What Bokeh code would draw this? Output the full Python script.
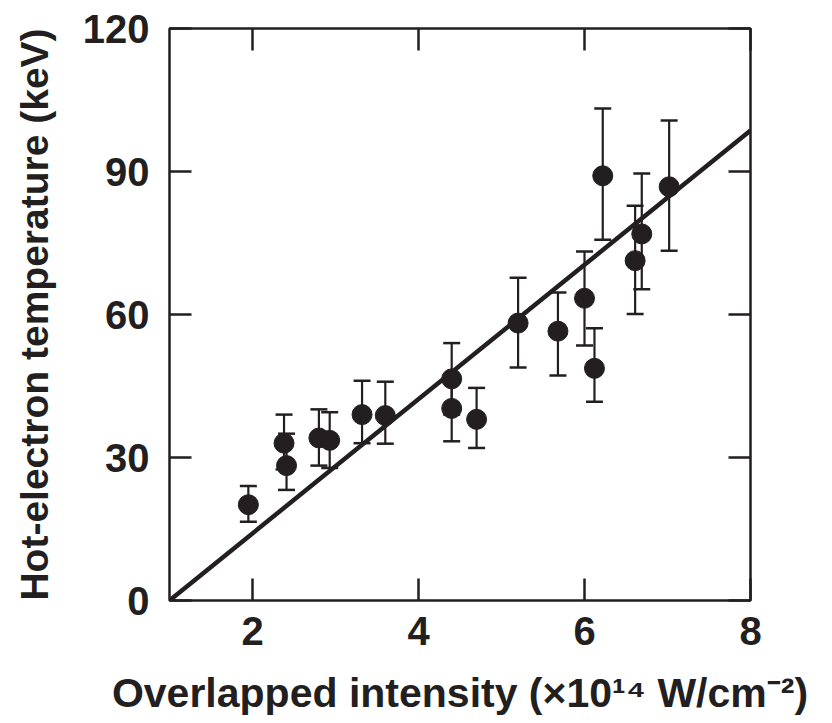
from bokeh.plotting import figure
from bokeh.models import Range1d, FixedTicker, LinearAxis, ColumnDataSource
from bokeh.embed import file_html
from bokeh.resources import INLINE

# Data
intensity = [1.95, 2.38, 2.41, 2.80, 2.93, 3.32, 3.60, 4.40, 4.40, 4.70,
             5.20, 5.68, 6.00, 6.12, 6.22, 6.61, 6.69, 7.02]
temperature = [20.1, 33.0, 28.3, 34.1, 33.6, 39.0, 38.8, 46.5, 40.3, 38.0,
               58.2, 56.5, 63.4, 48.7, 89.1, 71.3, 76.9, 86.8]
err_upper = [24.0, 39.0, 35.0, 40.1, 39.5, 46.1, 45.9, 54.0, 47.0, 44.6,
             67.7, 64.6, 73.2, 57.1, 103.2, 82.8, 89.6, 100.7]
err_lower = [16.5, 27.5, 23.2, 28.3, 27.8, 33.0, 32.9, 39.0, 33.4, 32.0,
             48.9, 47.2, 53.5, 41.7, 75.7, 60.1, 65.3, 73.4]
fit_x = [1.0, 8.0]
fit_y = [0.0, 98.6]
x_ticks = [2, 4, 6, 8]
y_ticks = [0, 30, 60, 90, 120]

INK = "#231f20"
FONT = "Liberation Sans"

p = figure(width=816, height=718, output_backend="svg", toolbar_location=None,
           x_range=Range1d(1, 8), y_range=Range1d(0, 120),
           min_border_left=169, min_border_right=66, min_border_top=28,
           min_border_bottom=117)
p.grid.visible = False
p.outline_line_color = INK
p.outline_line_width = 2.5
p.background_fill_color = "white"
p.border_fill_color = "white"

for ax in (p.xaxis[0], p.yaxis[0]):
    ax.axis_line_color = None
    ax.major_tick_in = 22
    ax.major_tick_out = 0
    ax.minor_tick_line_color = None
    ax.major_tick_line_color = INK
    ax.major_tick_line_width = 2.5
    ax.major_label_text_font = FONT
    ax.major_label_text_font_style = "bold"
    ax.major_label_text_font_size = "40px"
    ax.major_label_text_color = INK
    ax.axis_label_text_font = FONT
    ax.axis_label_text_font_style = "bold"
    ax.axis_label_text_color = INK

p.xaxis[0].ticker = FixedTicker(ticks=x_ticks)
p.yaxis[0].ticker = FixedTicker(ticks=y_ticks)
p.xaxis[0].major_label_standoff = 16
p.yaxis[0].major_label_standoff = 20

p.xaxis[0].axis_label = "Overlapped intensity (×10¹⁴ W/cm⁻²)"
p.xaxis[0].axis_label_text_font_size = "41px"
p.xaxis[0].axis_label_standoff = 22

p.yaxis[0].axis_label = "Hot-electron temperature (keV)"
p.yaxis[0].axis_label_text_font_size = "39px"
p.yaxis[0].axis_label_standoff = 24

# mirrored ticks on top and right
for loc, ticks in (("above", x_ticks), ("right", y_ticks)):
    ax = LinearAxis(ticker=FixedTicker(ticks=ticks))
    ax.axis_line_color = None
    ax.major_tick_in = 22
    ax.major_tick_out = 0
    ax.minor_tick_line_color = None
    ax.major_tick_line_color = INK
    ax.major_tick_line_width = 2.5
    ax.major_label_text_font_size = "0px"
    ax.major_label_text_color = None
    p.add_layout(ax, loc)

src = ColumnDataSource(dict(x=intensity, y=temperature, up=err_upper, lo=err_lower))

p.line(fit_x, fit_y, line_color=INK, line_width=4.5)
p.segment(x0="x", y0="lo", x1="x", y1="up", source=src, line_color=INK, line_width=2.2)
p.scatter(x="x", y="up", source=src, marker="dash", size=17, line_color=INK, line_width=2.5)
p.scatter(x="x", y="lo", source=src, marker="dash", size=17, line_color=INK, line_width=2.5)
p.scatter(x="x", y="y", source=src, marker="circle", size=20, fill_color=INK, line_color=INK)

open("out.html", "w").write(file_html(p, INLINE))
